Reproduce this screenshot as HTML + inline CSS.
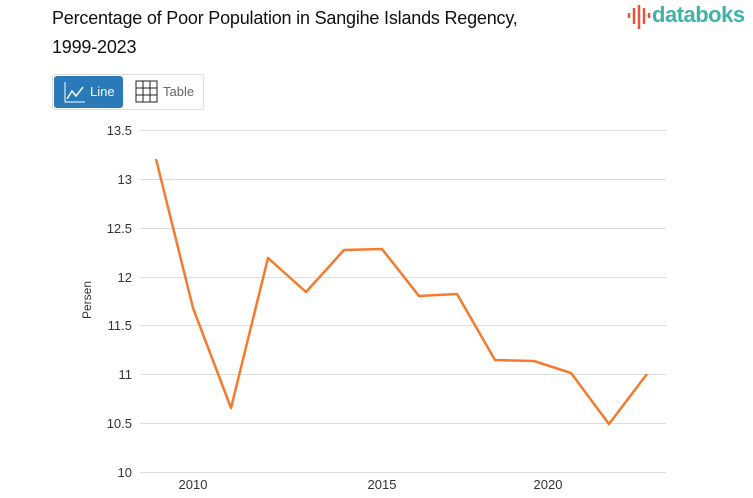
<!DOCTYPE html>
<html><head><meta charset="utf-8"><style>
body{margin:0;width:753px;height:498px;background:#fff;font-family:"Liberation Sans",sans-serif;overflow:hidden;position:relative}
.t{position:absolute;left:52px;top:4px;font-size:18px;line-height:29px;color:#111;letter-spacing:-0.2px}
.logo{position:absolute;left:625px;top:2px;white-space:nowrap;font-size:22px;color:#3fb3a8;font-weight:bold;letter-spacing:-0.5px}
.btns{position:absolute;left:52px;top:74px;width:150px;height:34px;border:1px solid #ddd;border-radius:3px}
.b1{position:absolute;left:1px;top:1px;width:69px;height:32px;background:#2a7ab9;border-radius:3px;color:#fff;font-size:13px}
.b2{position:absolute;left:82px;top:0;height:34px;color:#666;font-size:13px}
</style></head><body>
<div class="t">Percentage of Poor Population in Sangihe Islands Regency,<br>1999-2023</div>
<svg width="26" height="26" style="position:absolute;left:626px;top:4px"><g stroke="#e8553f" stroke-width="2.5"><line x1="3" y1="9" x2="3" y2="14"/><line x1="8" y1="4" x2="8" y2="20"/><line x1="13" y1="1" x2="13" y2="25"/><line x1="18" y1="4" x2="18" y2="20"/><line x1="23" y1="9" x2="23" y2="14"/></g></svg>
<div class="logo" style="left:652px">databoks</div>
<div class="btns">
<div class="b1"><svg width="24" height="24" style="position:absolute;left:9px;top:4px"><path d="M2 2V22H22" stroke="#fff" fill="none"/><path d="M4 19L9 11L13 16L20 7" stroke="#fff" fill="none" stroke-width="1.5"/></svg><span style="position:absolute;left:36px;top:8px">Line</span></div>
<div class="b2"><svg width="24" height="24" style="position:absolute;left:0;top:5px"><rect x="1" y="1" width="21" height="21" fill="none" stroke="#222"/><path d="M8 1V22M15 1V22M1 8H22M1 15H22" stroke="#222"/></svg><span style="position:absolute;left:28px;top:9px">Table</span></div>
</div>
<svg width="753" height="498" style="position:absolute;left:0;top:0">
<g stroke="#ddd" stroke-width="1">
<line x1="140" x2="666" y1="130.5" y2="130.5"/><line x1="140" x2="666" y1="179.5" y2="179.5"/><line x1="140" x2="666" y1="228.5" y2="228.5"/><line x1="140" x2="666" y1="277.5" y2="277.5"/><line x1="140" x2="666" y1="325.5" y2="325.5"/><line x1="140" x2="666" y1="374.5" y2="374.5"/><line x1="140" x2="666" y1="423.5" y2="423.5"/><line x1="140" x2="666" y1="472.5" y2="472.5"/>
</g>
<g font-size="13" fill="#333" text-anchor="end">
<text x="132" y="135">13.5</text><text x="132" y="184">13</text><text x="132" y="233">12.5</text><text x="132" y="282">12</text><text x="132" y="330">11.5</text><text x="132" y="379">11</text><text x="132" y="428">10.5</text><text x="132" y="477">10</text>
</g>
<g font-size="13" fill="#333" text-anchor="middle">
<text x="193" y="489">2010</text><text x="382" y="489">2015</text><text x="548" y="489">2020</text>
</g>
<text transform="translate(91,300) rotate(-90)" font-size="12" fill="#333" text-anchor="middle">Persen</text>
<polyline fill="none" stroke="#f47a2d" stroke-width="2.5" stroke-linejoin="round" points="156,159 193,308 231,408 268,258 306,292 344,250 382,249 419,296 457,294 495,360 534,361 571,373 609,424 647,374"/>
</svg>
</body></html>
